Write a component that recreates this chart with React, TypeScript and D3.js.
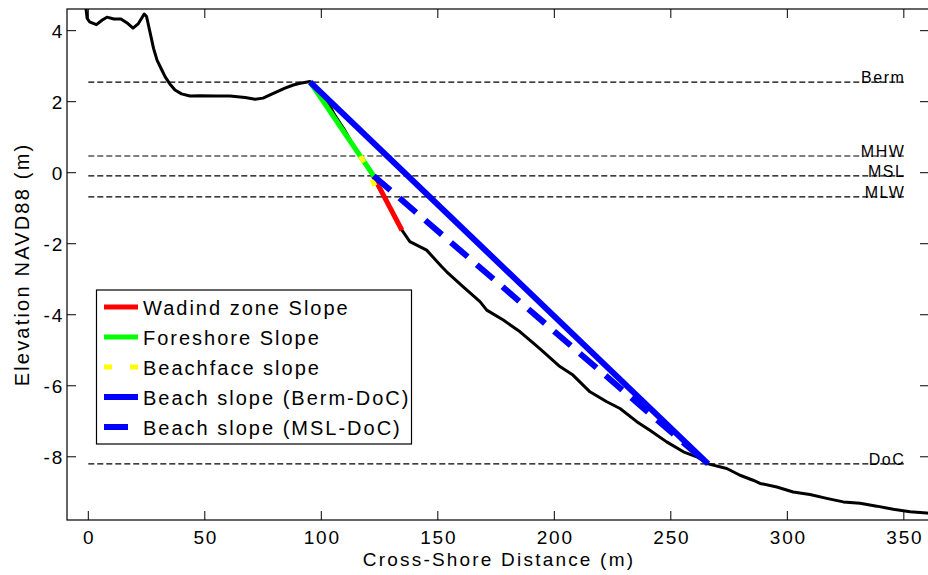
import React from "react";
import * as d3 from "d3";

// ---- data ----
const profileX = [-1.5, -0.5, 0.5, 3.5, 6, 8, 11, 14, 17, 19.2, 21.5, 24, 25, 26.5, 28, 29.5, 31.5, 33, 35, 37.2, 40, 43.6, 48, 55, 60.8, 67.3, 71.6, 75, 78, 84.4, 88, 90.9, 95.2,
  98, 100, 103, 106, 110, 113, 115.8, 118.5, 121, 122.3, 134.6,
  138, 145.2, 151.7, 153.8, 160.8, 168.1, 171, 178.1, 185.3, 191, 194, 202.4, 208, 215.3, 222.5, 228.2, 235.4, 241, 248.2, 255.4, 261.1, 266, 274, 279.7, 285.3,
  288.3, 295.5, 302.5, 309.7, 316.9, 324, 331.2, 338.4, 345.5, 352.7, 359.8, 361];
const profileY = [4.9, 4.35, 4.25, 4.17, 4.3, 4.38, 4.33, 4.33, 4.2, 4.07, 4.2, 4.47, 4.4, 3.95, 3.5, 3.17, 2.9, 2.7, 2.5, 2.33, 2.22, 2.16, 2.17, 2.16, 2.16, 2.12, 2.07, 2.1, 2.19, 2.38, 2.47, 2.52, 2.57,
  2.35, 2.2, 1.96, 1.6, 1.2, 0.85, 0.55, 0.3, 0.02, -0.09, -1.62,
  -1.94, -2.18, -2.65, -2.79, -3.21, -3.63, -3.87, -4.15, -4.48, -4.8, -4.97, -5.46, -5.7, -6.17, -6.45, -6.64, -7.01, -7.25, -7.58, -7.86, -8.0, -8.2, -8.33, -8.52, -8.66,
  -8.75, -8.85, -8.99, -9.06, -9.17, -9.27, -9.31, -9.39, -9.48, -9.55, -9.58, -9.6];

const refNames = ["Berm", "MHW", "MSL", "MLW", "DoC"];
const refLevels = [2.55, 0.47, -0.09, -0.68, -8.2];
const refStart = 0;
const refEnd = 350;

const seriesNames = ["Wadind zone Slope", "Foreshore Slope", "Beachface slope", "Beach slope (Berm-DoC)", "Beach slope (MSL-DoC)"];
const seriesColors = ["#ff0000", "#00ff00", "#ffff00", "#0000ff", "#0000ff"];
const wadingX = [122.3, 134.6];
const wadingY = [-0.09, -1.62];
const foreshoreX = [95.2, 122.6];
const foreshoreY = [2.55, -0.1];
const beachfaceX = [116.9, 125.3];
const beachfaceY = [0.47, -0.68];
const bermDocX = [95.2, 266];
const bermDocY = [2.55, -8.2];
const mslDocX = [122.5, 266];
const mslDocY = [-0.09, -8.2];

const xTicks = [0, 50, 100, 150, 200, 250, 300, 350];
const yTicks = [-8, -6, -4, -2, 0, 2, 4];

const W = 928, H = 575;
const L = 67, R = 929, T = 9, B = 520;

export default function App() {
  const x = d3.scaleLinear().domain([-9.14, 360.8]).range([L, R]);
  const y = d3.scaleLinear().domain([-9.78, 4.61]).range([B, T]);
  const line = d3.line<[number, number]>().x(d => x(d[0])).y(d => y(d[1]));
  const pts = (xs: number[], ys: number[]) => xs.map((v, i) => [v, ys[i]] as [number, number]);

  const segs = [
    { xs: wadingX, ys: wadingY, w: 5, dash: undefined as string | undefined },
    { xs: foreshoreX, ys: foreshoreY, w: 5, dash: undefined },
    { xs: beachfaceX, ys: beachfaceY, w: 5, dash: "7 19" },
    { xs: bermDocX, ys: bermDocY, w: 6, dash: undefined },
    { xs: mslDocX, ys: mslDocY, w: 6, dash: "22 12" },
  ];
  const legendDash = [undefined, undefined, "8 18", undefined, "24 12"];

  const font = "'Liberation Sans', Arial, Helvetica, sans-serif";
  const ls = "2.2px";

  return (
    <svg width={W} height={H} style={{ position: "absolute", left: 0, top: 0, background: "#fff" }} fontFamily={font}>
      <defs>
        <clipPath id="clip"><rect x={L} y={T} width={R - L} height={B - T} /></clipPath>
      </defs>
      <rect x={0} y={0} width={W} height={H} fill="#fff" />
      <g clipPath="url(#clip)">
        {refLevels.map((lv, i) => (
          <line key={i} x1={x(refStart)} x2={x(refEnd)} y1={y(lv)} y2={y(lv)} stroke="#000" strokeWidth={1.2} strokeDasharray="6 3" />
        ))}
        <path d={line(pts(profileX, profileY)) || ""} fill="none" stroke="#000" strokeWidth={3} strokeLinejoin="round" />
        {segs.map((s, i) => (
          <path key={i} d={line(pts(s.xs, s.ys)) || ""} fill="none" stroke={seriesColors[i]} strokeWidth={s.w} strokeDasharray={s.dash} />
        ))}
      </g>
      {refNames.map((n, i) => (
        <text key={n} x={x(refEnd) + 1.5} y={y(refLevels[i]) + 1} textAnchor="end" fontSize={16} letterSpacing="1.5px" fill="#000">{n}</text>
      ))}
      {/* axes box */}
      <rect x={L} y={T} width={R - L} height={B - T} fill="none" stroke="#000" strokeWidth={1.2} />
      {xTicks.map(t => (
        <g key={t}>
          <line x1={x(t)} x2={x(t)} y1={B} y2={B - 9} stroke="#000" />
          <line x1={x(t)} x2={x(t)} y1={T} y2={T + 9} stroke="#000" />
          <text x={x(t) + 1} y={543.5} textAnchor="middle" fontSize={19} letterSpacing="1.8px">{t}</text>
        </g>
      ))}
      {yTicks.map(t => (
        <g key={t}>
          <line x1={L} x2={L + 9} y1={y(t)} y2={y(t)} stroke="#000" />
          <line x1={R} x2={R - 9} y1={y(t)} y2={y(t)} stroke="#000" />
          <text x={64} y={y(t) + 7} textAnchor="end" fontSize={19} letterSpacing="1.8px">{t}</text>
        </g>
      ))}
      <text x={(L + R) / 2 + 1} y={566} textAnchor="middle" fontSize={19} letterSpacing={ls}>Cross-Shore Distance (m)</text>
      <text transform={`translate(29,${(T + B) / 2}) rotate(-90)`} textAnchor="middle" fontSize={20} letterSpacing={ls}>Elevation NAVD88 (m)</text>
      {/* legend */}
      <g>
        <rect x={96.5} y={290} width={315} height={154} fill="#fff" stroke="#000" strokeWidth={1.2} />
        {seriesNames.map((n, i) => {
          const cy = 307 + i * 30;
          return (
            <g key={n}>
              <line x1={104} x2={138} y1={cy} y2={cy} stroke={seriesColors[i]} strokeWidth={i >= 3 ? 6 : 5} strokeDasharray={legendDash[i]} />
              <text x={143} y={cy + 8} fontSize={20} letterSpacing="2px">{n}</text>
            </g>
          );
        })}
      </g>
    </svg>
  );
}
